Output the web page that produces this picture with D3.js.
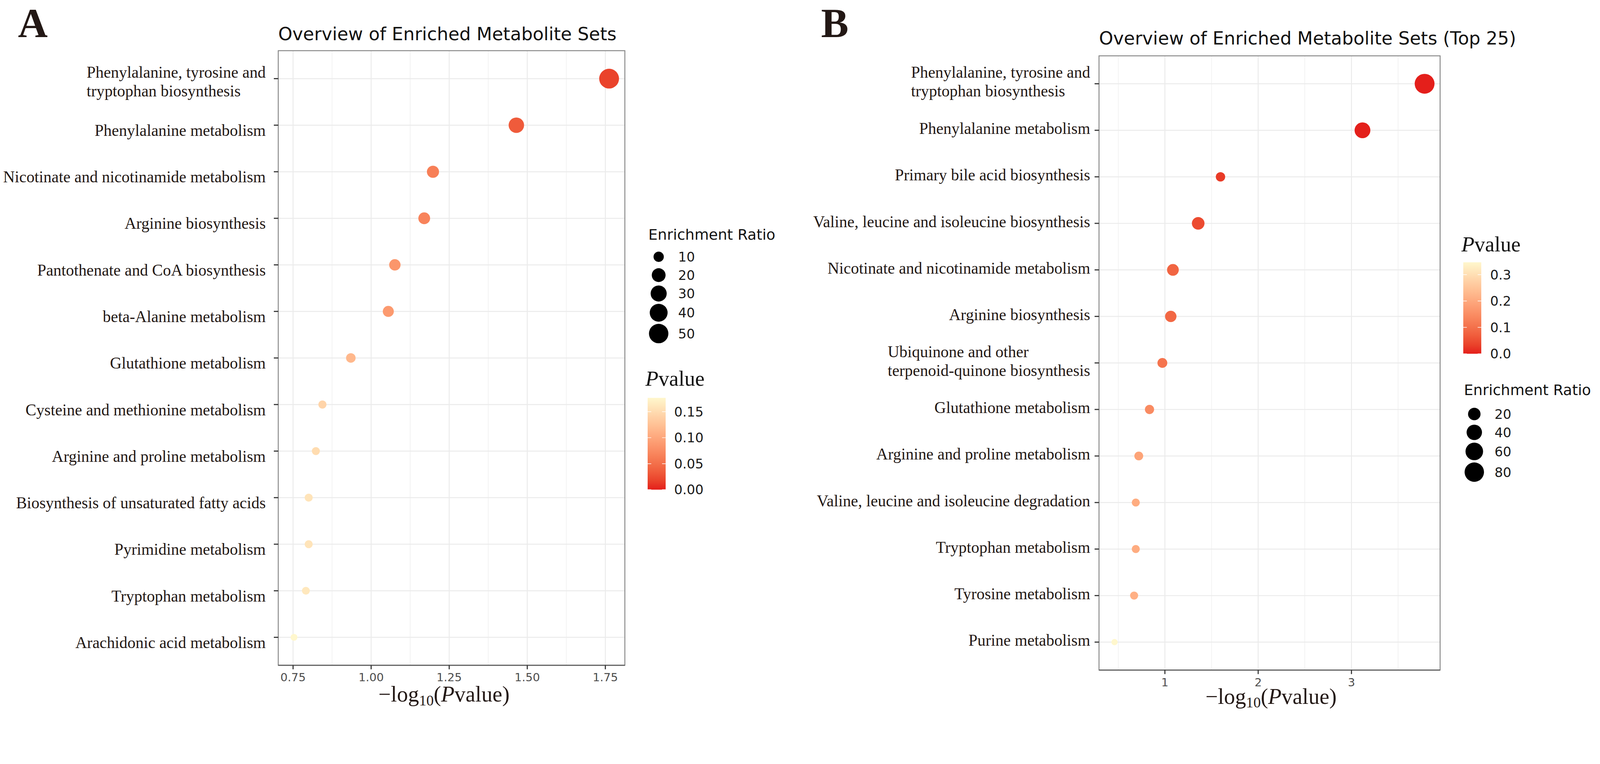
<!DOCTYPE html>
<html><head><meta charset="utf-8">
<script src="https://cdn.jsdelivr.net/npm/d3@7"></script>
<style>html,body{margin:0;padding:0;background:#fff;overflow:hidden}
#chart{display:block;width:100vw;height:auto}</style>
</head><body>
<svg id="chart" viewBox="0 0 4353 1957" preserveAspectRatio="xMidYMin meet" xmlns="http://www.w3.org/2000/svg"></svg>
<script>
// ---------------- DATA ----------------
const categoriesA = [
  "Phenylalanine, tyrosine and\ntryptophan biosynthesis",
  "Phenylalanine metabolism",
  "Nicotinate and nicotinamide metabolism",
  "Arginine biosynthesis",
  "Pantothenate and CoA biosynthesis",
  "beta-Alanine metabolism",
  "Glutathione metabolism",
  "Cysteine and methionine metabolism",
  "Arginine and proline metabolism",
  "Biosynthesis of unsaturated fatty acids",
  "Pyrimidine metabolism",
  "Tryptophan metabolism",
  "Arachidonic acid metabolism"
];
const negLogPA = [1.762, 1.465, 1.198, 1.170, 1.076, 1.055, 0.935, 0.844, 0.823, 0.800, 0.800, 0.791, 0.753];
const enrichA  = [53.0, 26.9, 14.4, 13.4, 12.4, 11.5, 8.8, 7.3, 7.2, 7.2, 7.2, 7.1, 6.85];
const xTicksA = [0.75, 1.00, 1.25, 1.50, 1.75];
const xTickLabelsA = ["0.75", "1.00", "1.25", "1.50", "1.75"];
const xMinorA = [0.875, 1.125, 1.375, 1.625];
const sizeBreaksA = [10, 20, 30, 40, 50];
const colorBreaksA = [0, 0.05, 0.10, 0.15];
const colorLabelsA = ["0.00", "0.05", "0.10", "0.15"];
const titleA = "Overview of Enriched Metabolite Sets";

const categoriesB = [
  "Phenylalanine, tyrosine and\ntryptophan biosynthesis",
  "Phenylalanine metabolism",
  "Primary bile acid biosynthesis",
  "Valine, leucine and isoleucine biosynthesis",
  "Nicotinate and nicotinamide metabolism",
  "Arginine biosynthesis",
  "Ubiquinone and other\nterpenoid-quinone biosynthesis",
  "Glutathione metabolism",
  "Arginine and proline metabolism",
  "Valine, leucine and isoleucine degradation",
  "Tryptophan metabolism",
  "Tyrosine metabolism",
  "Purine metabolism"
];
const negLogPB = [3.784, 3.118, 1.596, 1.357, 1.086, 1.063, 0.973, 0.835, 0.720, 0.688, 0.688, 0.670, 0.460];
const enrichB  = [85.3, 43.4, 6.9, 20.8, 16.1, 14.4, 8.3, 6.4, 5.5, 4.0, 4.0, 4.0, 2.5];
const xTicksB = [1, 2, 3];
const xTickLabelsB = ["1", "2", "3"];
const xMinorB = [0.5, 1.5, 2.5, 3.5];
const sizeBreaksB = [20, 40, 60, 80];
const colorBreaksB = [0, 0.1, 0.2, 0.3];
const colorLabelsB = ["0.0", "0.1", "0.2", "0.3"];
const titleB = "Overview of Enriched Metabolite Sets (Top 25)";

// ---------------- LAYOUT / STYLE ----------------
const SERIF = "'Liberation Serif','Times New Roman',serif";
const SANS = "'DejaVu Sans',Verdana,sans-serif";
const LOW = "#E41F1B", HIGH = "#FFF7CD";

const panels = [
  { letter: "A", letterX: 49, letterY: 101,
    cats: categoriesA, x: negLogPA, er: enrichA, title: titleA,
    ticks: xTicksA, tickLabels: xTickLabelsA, minor: xMinorA,
    sizeBreaks: sizeBreaksA, colorBreaks: colorBreaksA, colorLabels: colorLabelsA,
    left: 757, right: 1700, top: 138, bottom: 1811,
    titleY: 109, labelRight: 723, singleDy: 29, multiDy: -3,
    tickLabelY: 1855, axisTitleX: 1208, axisTitleY: 1910,
    rMin: 9.4, rMax: 27,
    pTitle: {x: 1756, y: 1050}, bar: {x: 1762, w: 49, top: 1083, bottom: 1333}, barLabelX: 1834,
    sTitle: {x: 1764, y: 652}, sKeyX: 1792, sKeyY0: 699, sLabelX: 1845 },
  { letter: "B", letterX: 2234, letterY: 101,
    cats: categoriesB, x: negLogPB, er: enrichB, title: titleB,
    ticks: xTicksB, tickLabels: xTickLabelsB, minor: xMinorB,
    sizeBreaks: sizeBreaksB, colorBreaks: colorBreaksB, colorLabels: colorLabelsB,
    left: 2990, right: 3918, top: 152, bottom: 1824,
    titleY: 121, labelRight: 2966, singleDy: 10, multiDy: -16,
    tickLabelY: 1868, axisTitleX: 3458, axisTitleY: 1916,
    rMin: 8.5, rMax: 27,
    pTitle: {x: 3976, y: 684}, bar: {x: 3981, w: 49, top: 714, bottom: 963}, barLabelX: 4054,
    sTitle: {x: 3983, y: 1076}, sKeyX: 4011, sKeyY0: 1127, sLabelX: 4066 }
];

const svg = d3.select("#chart");
svg.append("rect").attr("width", 4353).attr("height", 1957).attr("fill", "#fff");
const defs = svg.append("defs");

panels.forEach((P, pi) => {
  const g = svg.append("g");
  const data = P.cats.map((c, i) => ({ cat: c, x: P.x[i], er: P.er[i], p: Math.pow(10, -P.x[i]) }));

  // scales
  const [xmin, xmax] = d3.extent(P.x);
  const pad = (xmax - xmin) * 0.05;
  const x = d3.scaleLinear().domain([xmin - pad, xmax + pad]).range([P.left, P.right]);
  const y = d3.scalePoint().domain(P.cats).range([P.top, P.bottom]).padding(0.6);
  const maxP = d3.max(data, d => d.p);
  const color = d3.scaleLinear().domain([0, maxP]).range([LOW, HIGH]).interpolate(d3.interpolateLab);
  const norm = d3.scaleLinear().domain(d3.extent(P.er)).range([0, 1]);
  const rOut = d3.scaleLinear().domain([0, 1]).range([P.rMin, P.rMax]);
  const radius = v => rOut(Math.sqrt(Math.max(0, norm(v))));

  // panel letter
  g.append("text").attr("x", P.letterX).attr("y", P.letterY)
    .attr("font-family", SERIF).attr("font-weight", "bold").attr("font-size", 112)
    .attr("fill", "#231815").text(P.letter);

  // title
  g.append("text").attr("x", P.left).attr("y", P.titleY)
    .attr("font-family", SANS).attr("font-size", 49).attr("fill", "#111").text(P.title);

  // grid
  const grid = g.append("g");
  grid.selectAll("line.minor").data(P.minor).join("line")
    .attr("x1", d => x(d)).attr("x2", d => x(d)).attr("y1", P.top).attr("y2", P.bottom)
    .attr("stroke", "#EFEFEF").attr("stroke-width", 1.6);
  grid.selectAll("line.vmaj").data(P.ticks).join("line")
    .attr("x1", d => x(d)).attr("x2", d => x(d)).attr("y1", P.top).attr("y2", P.bottom)
    .attr("stroke", "#EBEBEB").attr("stroke-width", 2.6);
  grid.selectAll("line.hmaj").data(P.cats).join("line")
    .attr("x1", P.left).attr("x2", P.right).attr("y1", d => y(d)).attr("y2", d => y(d))
    .attr("stroke", "#EBEBEB").attr("stroke-width", 2.6);

  // points
  g.append("g").selectAll("circle").data(data).join("circle")
    .attr("cx", d => x(d.x)).attr("cy", d => y(d.cat)).attr("r", d => radius(d.er))
    .attr("fill", d => color(d.p));

  // border
  g.append("rect").attr("x", P.left).attr("y", P.top)
    .attr("width", P.right - P.left).attr("height", P.bottom - P.top)
    .attr("fill", "none").attr("stroke", "#858585").attr("stroke-width", 2.5);
  g.append("line").attr("x1", P.left).attr("x2", P.right).attr("y1", P.bottom).attr("y2", P.bottom)
    .attr("stroke", "#5a5a5a").attr("stroke-width", 3);

  // y ticks
  g.append("g").selectAll("line").data(P.cats).join("line")
    .attr("x1", P.left - 12).attr("x2", P.left).attr("y1", d => y(d)).attr("y2", d => y(d))
    .attr("stroke", "#333").attr("stroke-width", 3);

  // y labels
  const labG = g.append("g").attr("font-family", SERIF).attr("font-size", 44).attr("fill", "#231815");
  P.cats.forEach(c => {
    const lines = c.split("\n");
    const yy = y(c);
    if (lines.length === 1) {
      labG.append("text").attr("x", P.labelRight).attr("y", yy + P.singleDy)
        .attr("text-anchor", "end").text(c);
    } else {
      const ts = lines.map((ln, k) => labG.append("text").attr("y", yy + P.multiDy + k * 51).text(ln));
      const wmax = d3.max(ts, t => t.node().getComputedTextLength());
      ts.forEach(t => t.attr("x", P.labelRight - wmax));
    }
  });

  // x ticks
  g.append("g").selectAll("line").data(P.ticks).join("line")
    .attr("x1", d => x(d)).attr("x2", d => x(d)).attr("y1", P.bottom).attr("y2", P.bottom + 11)
    .attr("stroke", "#333").attr("stroke-width", 3);
  g.append("g").selectAll("text").data(P.ticks).join("text")
    .attr("x", d => x(d)).attr("y", P.tickLabelY).attr("text-anchor", "middle")
    .attr("font-family", SANS).attr("font-size", 31).attr("fill", "#4D4D4D")
    .text((d, i) => P.tickLabels[i]);

  // x axis title
  const at = g.append("text").attr("x", P.axisTitleX).attr("y", P.axisTitleY)
    .attr("text-anchor", "middle").attr("font-family", SERIF).attr("font-size", 60).attr("fill", "#231815");
  at.append("tspan").text("\u2212log");
  at.append("tspan").attr("font-size", 40).attr("dy", 10).text("10");
  at.append("tspan").attr("dy", -10).text("(");
  at.append("tspan").attr("font-style", "italic").text("P");
  at.append("tspan").text("value)");

  // ---- legends ----
  const pt = g.append("text").attr("x", P.pTitle.x).attr("y", P.pTitle.y)
    .attr("font-family", SERIF).attr("font-size", 58).attr("fill", "#111");
  pt.append("tspan").attr("font-style", "italic").text("P");
  pt.append("tspan").text("value");

  const gid = "grad" + pi;
  const grad = defs.append("linearGradient").attr("id", gid)
    .attr("x1", 0).attr("y1", 1).attr("x2", 0).attr("y2", 0);
  d3.range(0, 1.0001, 0.1).forEach(t => {
    grad.append("stop").attr("offset", t).attr("stop-color", color(t * maxP));
  });
  const barY = d3.scaleLinear().domain([0, maxP]).range([P.bar.bottom, P.bar.top]);
  g.append("rect").attr("x", P.bar.x).attr("y", P.bar.top).attr("width", P.bar.w)
    .attr("height", P.bar.bottom - P.bar.top).attr("fill", `url(#${gid})`);
  const tw = P.bar.w / 5;
  g.append("g").selectAll("path").data(P.colorBreaks).join("path")
    .attr("d", d => `M${P.bar.x},${barY(d)}h${tw}M${P.bar.x + P.bar.w - tw},${barY(d)}h${tw}`)
    .attr("stroke", "#fff").attr("stroke-width", 1.5);
  g.append("g").selectAll("text").data(P.colorBreaks).join("text")
    .attr("x", P.barLabelX).attr("y", d => barY(d)).attr("dy", "0.36em")
    .attr("font-family", SANS).attr("font-size", 36).attr("fill", "#1a1a1a")
    .text((d, i) => P.colorLabels[i]);

  g.append("text").attr("x", P.sTitle.x).attr("y", P.sTitle.y)
    .attr("font-family", SANS).attr("font-size", 40).attr("fill", "#111").text("Enrichment Ratio");
  let cy = P.sKeyY0, prevH = null;
  const keys = P.sizeBreaks.map(v => {
    const r = radius(v);
    const h = Math.max(50, 2 * r + 6);
    if (prevH !== null) cy += (prevH + h) / 2;
    prevH = h;
    return { v, r, cy };
  });
  g.append("g").selectAll("circle").data(keys).join("circle")
    .attr("cx", P.sKeyX).attr("cy", d => d.cy).attr("r", d => d.r).attr("fill", "#000");
  g.append("g").selectAll("text").data(keys).join("text")
    .attr("x", P.sLabelX).attr("y", d => d.cy).attr("dy", "0.36em")
    .attr("font-family", SANS).attr("font-size", 36).attr("fill", "#1a1a1a").text(d => d.v);
});
</script>
</body></html>
